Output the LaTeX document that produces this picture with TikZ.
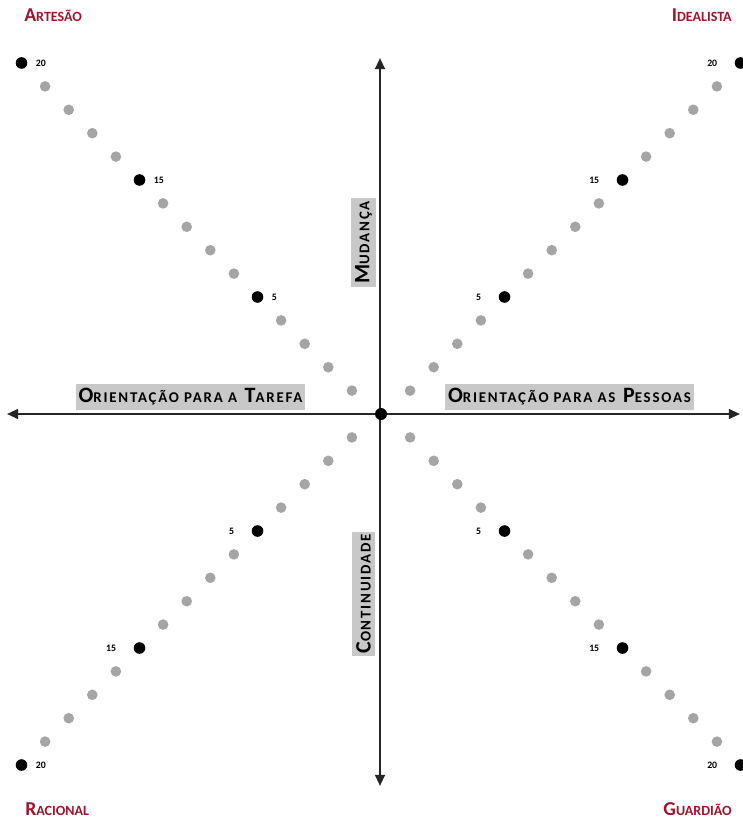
\documentclass[tikz,border=0pt]{standalone}
\usepackage{fontspec}
\setmainfont{Carlito}
\newfontfamily\axisfont[LetterSpace=12]{Carlito}
\usetikzlibrary{arrows.meta,calc}
\definecolor{dotgrey}{RGB}{165,165,165}
\definecolor{boxgrey}{RGB}{200,200,200}
\definecolor{typered}{RGB}{158,22,45}
% falsos versaletes
\newcommand{\axsc}[1]{{\fontsize{10.6}{11}\selectfont #1}}
\newcommand{\cnsc}[1]{{\fontsize{10}{11}\selectfont #1}}

\tikzset{
  eixo/.style={line width=1.5pt, black!85, {Triangle[length=8pt,width=7pt]}-{Triangle[length=8pt,width=7pt]}},
  rotulo/.style={fill=boxgrey, inner xsep=2pt, inner ysep=3pt, font=\axisfont\bfseries\fontsize{15.6}{17}\selectfont},
  canto/.style={inner sep=0pt, text=typered, font=\bfseries\fontsize{14}{16}\selectfont},
  numero/.style={inner sep=0pt, font=\bfseries\fontsize{7}{8}\selectfont},
}

\begin{document}
\begin{tikzpicture}[x=0.025cm, y=-0.025cm, line cap=round, line join=round]
  \useasboundingbox (0,0) rectangle (742,820);

  % --- eixos ---
  \coordinate (O) at (381,414);
  \coordinate (W) at (7,414);
  \coordinate (E) at (740,414);
  \coordinate (N) at (380,58);
  \coordinate (S) at (380,786);
  \draw[eixo] (W) -- (E);
  \draw[eixo] (N) -- (S);

  % --- pontos nas diagonais ---
  \foreach \q/\sx/\sy in {ul/-1/1, ur/1/1, ll/-1/-1, lr/1/-1}{
    \foreach \k in {1,...,15}{
      \coordinate (\q\k) at ({381+\sx*(5.5+23.6*\k)}, {414-\sy*23.4*\k});
      \fill[dotgrey] (\q\k) circle (5.3);
    }
    \foreach \k in {5,10,15} \fill (\q\k) circle (5.8);
  }
  \fill (O) circle (6);

  % --- numeros ---
  \foreach \d/\t in {ul5/5, ul10/15, ul15/20, ll15/20}
    \node[numero, anchor=west] (n\d) at ($(\d)+(14,0)$) {\t};
  \foreach \d/\t in {ur5/5, ur10/15, ur15/20, ll5/5, ll10/15, lr5/5, lr10/15, lr15/20}
    \node[numero, anchor=east] (n\d) at ($(\d)+(-23,0)$) {\t};

  % --- rotulos dos eixos ---
  \node[rotulo] (tarefa) at (190.5,397) {O\axsc{RIENTAÇÃO PARA A} T\axsc{AREFA}};
  \node[rotulo] (pessoas) at (569.5,397) {O\axsc{RIENTAÇÃO PARA AS} P\axsc{ESSOAS}};
  \node[rotulo, rotate=90] (mudanca) at (363.5,242.5) {M\axsc{UDANÇA}};
  \node[rotulo, rotate=90] (continuidade) at (363.5,594) {C\axsc{ONTINUIDADE}};

  % --- temperamentos ---
  \node[canto, anchor=base west] (artesao) at (24,22) {A\cnsc{RTESÃO}};
  \node[canto, anchor=base east] (idealista) at (732,22) {I\cnsc{DEALISTA}};
  \node[canto, anchor=base west] (racional) at (25,815) {R\cnsc{ACIONAL}};
  \node[canto, anchor=base east] (guardiao) at (732,815) {G\cnsc{UARDIÃO}};
\end{tikzpicture}
\end{document}
